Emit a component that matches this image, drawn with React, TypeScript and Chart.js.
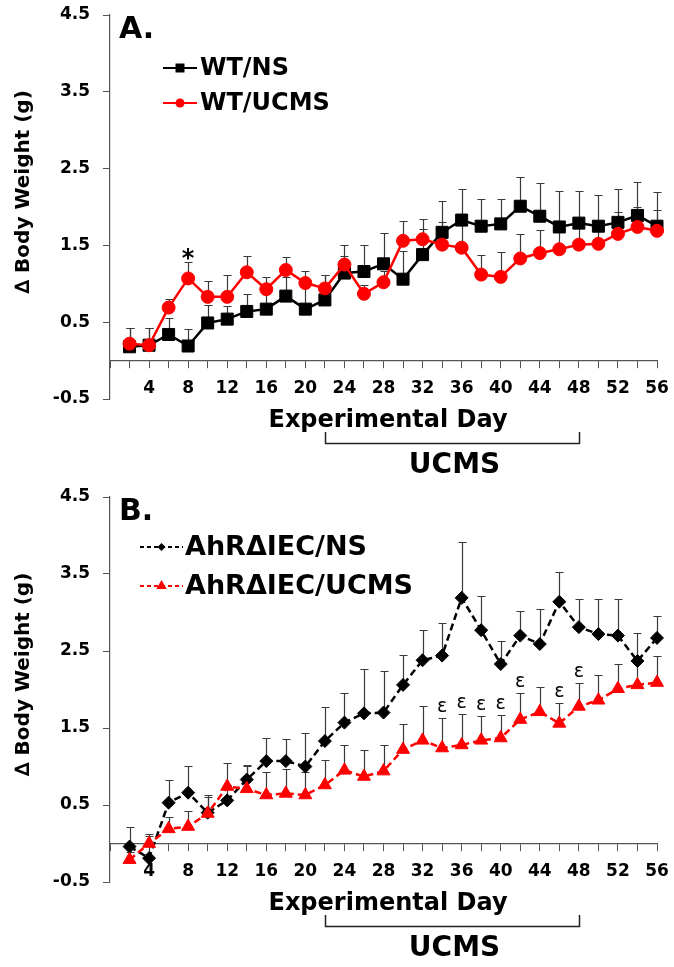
import React, { useEffect, useRef } from "react";
import { Chart, registerables } from "chart.js";

Chart.register(...registerables);

// ---------- data ----------
const days = [2, 4, 6, 8, 10, 12, 14, 16, 18, 20, 22, 24, 26, 28, 30, 32, 34, 36, 38, 40, 42, 44, 46, 48, 50, 52, 54, 56];
const xTickValues = [0, 2, 4, 6, 8, 10, 12, 14, 16, 18, 20, 22, 24, 26, 28, 30, 32, 34, 36, 38, 40, 42, 44, 46, 48, 50, 52, 54, 56];
const yTickValues = [-0.5, 0.5, 1.5, 2.5, 3.5, 4.5];

// Panel A
const wtNS = [0.18, 0.2, 0.34, 0.19, 0.49, 0.54, 0.64, 0.67, 0.84, 0.67, 0.79, 1.14, 1.16, 1.26, 1.06, 1.38, 1.67, 1.83, 1.75, 1.78, 2.01, 1.88, 1.74, 1.79, 1.75, 1.8, 1.89, 1.75];
const wtNSErr = [0.25, 0.22, 0.21, 0.22, 0.23, 0.17, 0.23, 0.2, 0.25, 0.3, 0.33, 0.36, 0.34, 0.4, 0.37, 0.33, 0.41, 0.4, 0.35, 0.33, 0.38, 0.43, 0.47, 0.42, 0.41, 0.44, 0.44, 0.44];
const wtUCMS = [0.22, 0.2, 0.69, 1.07, 0.83, 0.83, 1.15, 0.93, 1.18, 1.01, 0.94, 1.25, 0.87, 1.02, 1.56, 1.58, 1.51, 1.47, 1.12, 1.09, 1.33, 1.4, 1.45, 1.51, 1.52, 1.65, 1.74, 1.69];
const wtUCMSErr = [0.2, 0.22, 0.11, 0.21, 0.21, 0.29, 0.21, 0.16, 0.17, 0.16, 0.18, 0.11, 0.12, 0.15, 0.26, 0.27, 0.29, 0.3, 0.25, 0.33, 0.32, 0.3, 0.3, 0.3, 0.3, 0.28, 0.26, 0.27];
const starDays = [8];

// Panel B
const ahrNS = [-0.04, -0.19, 0.53, 0.66, 0.4, 0.56, 0.83, 1.07, 1.07, 1.0, 1.33, 1.57, 1.69, 1.7, 2.06, 2.38, 2.44, 3.19, 2.77, 2.33, 2.7, 2.59, 3.14, 2.81, 2.72, 2.7, 2.37, 2.67];
const ahrNSErr = [0.25, 0.31, 0.29, 0.35, 0.23, 0.2, 0.19, 0.3, 0.29, 0.44, 0.44, 0.39, 0.57, 0.54, 0.39, 0.39, 0.43, 0.73, 0.45, 0.3, 0.32, 0.45, 0.38, 0.37, 0.46, 0.48, 0.37, 0.28];
const ahrUCMS = [-0.21, 0.0, 0.19, 0.22, 0.39, 0.74, 0.71, 0.63, 0.65, 0.63, 0.76, 0.95, 0.87, 0.94, 1.22, 1.34, 1.24, 1.28, 1.34, 1.37, 1.61, 1.71, 1.56, 1.78, 1.86, 2.01, 2.06, 2.09];
const ahrUCMSErr = [0.1, 0.1, 0.15, 0.2, 0.21, 0.31, 0.3, 0.3, 0.32, 0.3, 0.32, 0.33, 0.35, 0.34, 0.33, 0.44, 0.39, 0.4, 0.32, 0.3, 0.34, 0.32, 0.26, 0.3, 0.33, 0.32, 0.3, 0.35];
const epsDays = [34, 36, 38, 40, 42, 46, 48];

const ucmsStartDay = 22;
const ucmsEndDay = 48;

// ---------- drawing ----------
const FONT = '"DejaVu Sans", sans-serif';
const AXIS = "#555";

type Style = "rect" | "circle" | "rectRot" | "triangle";
type Series = {
  label: string;
  values: number[];
  errors: number[];
  color: string;
  style: Style;
  radius: number;
  legendRadius: number;
  dash: number[];
  order: number;
};

type PanelCfg = {
  letter: string;
  series: Series[];
  height: number;
  bottomPad: number;
  legendX0: number;
  legendX1: number;
  legendTextX: number;
  legendRows: number[];
  legendFont: number;
  markSeries: number;
  markDays: number[];
  markText: string;
  markFont: string;
  markOffset: number;
};

function drawMarker(ctx: CanvasRenderingContext2D, style: Style, x: number, y: number, r: number) {
  ctx.beginPath();
  if (style === "circle") ctx.arc(x, y, r, 0, Math.PI * 2);
  else if (style === "rect") ctx.rect(x - r, y - r, 2 * r, 2 * r);
  else if (style === "rectRot") {
    ctx.moveTo(x, y - r);
    ctx.lineTo(x + r, y);
    ctx.lineTo(x, y + r);
    ctx.lineTo(x - r, y);
    ctx.closePath();
  } else {
    ctx.moveTo(x, y - r);
    ctx.lineTo(x + r * 0.866, y + r * 0.5);
    ctx.lineTo(x - r * 0.866, y + r * 0.5);
    ctx.closePath();
  }
  ctx.fill();
}

function makePlugin(cfg: PanelCfg) {
  return {
    id: "panelDeco" + cfg.letter,
    beforeDatasetsDraw(chart: any) {
      const { ctx, scales } = chart;
      const x = scales.x, y = scales.y;
      ctx.save();
      ctx.strokeStyle = "#3a3a3a";
      ctx.lineWidth = 1.2;
      cfg.series.forEach((s) => {
        s.values.forEach((v, i) => {
          const px = Math.round(x.getPixelForValue(days[i])) + 0.5;
          const py = y.getPixelForValue(v);
          const pt = Math.round(y.getPixelForValue(v + s.errors[i])) + 0.5;
          ctx.beginPath();
          ctx.moveTo(px, py);
          ctx.lineTo(px, pt);
          ctx.moveTo(px - 4, pt);
          ctx.lineTo(px + 4, pt);
          ctx.stroke();
        });
      });
      ctx.restore();
    },
    afterDraw(chart: any) {
      const { ctx, chartArea, scales } = chart;
      const x = scales.x, y = scales.y;
      ctx.save();
      ctx.fillStyle = "#000";

      // panel letter
      ctx.font = `bold 30px ${FONT}`;
      ctx.textAlign = "left";
      ctx.textBaseline = "alphabetic";
      ctx.fillText(cfg.letter, 119, 38);

      // legend
      cfg.series.forEach((s, i) => {
        const ly = cfg.legendRows[i];
        ctx.save();
        ctx.strokeStyle = s.color;
        ctx.lineWidth = 2;
        ctx.setLineDash(s.dash.length ? [4, 3] : []);
        ctx.beginPath();
        ctx.moveTo(cfg.legendX0, ly);
        ctx.lineTo(cfg.legendX1, ly);
        ctx.stroke();
        ctx.restore();
        ctx.fillStyle = s.color;
        drawMarker(ctx, s.style, (cfg.legendX0 + cfg.legendX1) / 2, ly, s.legendRadius);
        ctx.fillStyle = "#000";
        ctx.font = `bold ${cfg.legendFont}px ${FONT}`;
        ctx.textAlign = "left";
        ctx.textBaseline = "middle";
        ctx.fillText(s.label, cfg.legendTextX, ly + 1);
      });

      // y title
      ctx.save();
      ctx.translate(24, (chartArea.top + chartArea.bottom) / 2 - 15);
      ctx.rotate(-Math.PI / 2);
      ctx.font = `bold 20px ${FONT}`;
      ctx.textAlign = "center";
      ctx.textBaseline = "middle";
      ctx.fillText("\u2206 Body Weight (g)", 0, 0);
      ctx.restore();

      // x title
      const zeroY = y.getPixelForValue(0);
      ctx.font = `bold 24px ${FONT}`;
      ctx.textAlign = "center";
      ctx.textBaseline = "middle";
      ctx.fillText("Experimental Day", 388, zeroY + 60);

      // UCMS bracket
      const bx0 = Math.round(x.getPixelForValue(ucmsStartDay)) + 0.5;
      const bx1 = Math.round(x.getPixelForValue(ucmsEndDay)) + 0.5;
      const by0 = Math.round(zeroY + 71);
      const by1 = by0 + 11.5;
      ctx.strokeStyle = "#222";
      ctx.lineWidth = 1.5;
      ctx.beginPath();
      ctx.moveTo(bx0, by0);
      ctx.lineTo(bx0, by1);
      ctx.lineTo(bx1, by1);
      ctx.lineTo(bx1, by0);
      ctx.stroke();
      ctx.font = `bold 28px ${FONT}`;
      ctx.fillText("UCMS", (bx0 + bx1) / 2 + 2, zeroY + 105);

      // significance marks
      const ms = cfg.series[cfg.markSeries];
      ctx.font = cfg.markFont;
      ctx.textAlign = "center";
      ctx.textBaseline = "alphabetic";
      cfg.markDays.forEach((d) => {
        const i = days.indexOf(d);
        if (i < 0) return;
        const capY = y.getPixelForValue(ms.values[i] + ms.errors[i]);
        ctx.fillText(cfg.markText, x.getPixelForValue(d), capY + cfg.markOffset);
      });
      ctx.restore();
    },
  };
}

function Panel({ cfg }: { cfg: PanelCfg }) {
  const ref = useRef<HTMLCanvasElement | null>(null);
  useEffect(() => {
    if (!ref.current) return;
    const tickFont = { family: FONT, weight: "bold" as const, size: 17 };
    const chart = new Chart(ref.current, {
      type: "line",
      data: {
        datasets: cfg.series.map((s) => ({
          label: s.label,
          data: s.values.map((v, i) => ({ x: days[i], y: v })),
          borderColor: s.color,
          backgroundColor: s.color,
          borderWidth: 2.5,
          borderDash: s.dash,
          pointStyle: s.style,
          pointRadius: s.radius,
          pointHoverRadius: s.radius,
          pointBackgroundColor: s.color,
          pointBorderColor: s.color,
          pointBorderWidth: 1,
          tension: 0,
          order: s.order,
          clip: false as any,
        })),
      },
      options: {
        animation: false,
        responsive: false,
        devicePixelRatio: 1,
        events: [],
        layout: { padding: { left: 0, right: 17, top: 15, bottom: cfg.bottomPad } },
        plugins: { legend: { display: false }, tooltip: { enabled: false }, title: { display: false } },
        scales: {
          x: {
            type: "linear",
            position: { y: 0 } as any,
            min: 0,
            max: 56,
            afterBuildTicks: (s: any) => {
              s.ticks = xTickValues.map((v) => ({ value: v }));
            },
            afterFit: (s: any) => {
              s.paddingLeft = 0;
              s.paddingRight = 0;
              s.paddingTop = 0;
              s.paddingBottom = 0;
            },
            grid: { drawOnChartArea: false, drawTicks: true, tickLength: 7, color: AXIS, lineWidth: 1 },
            border: { display: true, color: AXIS, width: 1.2 },
            ticks: {
              autoSkip: false,
              maxRotation: 0,
              minRotation: 0,
              padding: 11,
              color: "#000",
              font: tickFont,
              callback: (v: any) => (Number(v) > 0 && Number(v) % 4 === 0 ? String(v) : ""),
            },
          },
          y: {
            type: "linear",
            position: "left",
            min: -0.5,
            max: 4.5,
            afterBuildTicks: (s: any) => {
              s.ticks = yTickValues.map((v) => ({ value: v }));
            },
            afterFit: (s: any) => {
              s.width = 110;
              s.paddingTop = 0;
              s.paddingBottom = 0;
            },
            grid: { drawOnChartArea: false, drawTicks: true, tickLength: 7, color: AXIS, lineWidth: 1 },
            border: { display: true, color: AXIS, width: 1.2 },
            ticks: {
              padding: 13,
              color: "#000",
              font: tickFont,
              callback: (v: any) => Number(v).toFixed(1),
            },
          },
        },
      },
      plugins: [makePlugin(cfg)],
    });
    return () => chart.destroy();
  }, [cfg]);
  return <canvas ref={ref} width={674} height={cfg.height} style={{ display: "block", width: 674, height: cfg.height }} />;
}

const panelA: PanelCfg = {
  letter: "A.",
  series: [
    { label: "WT/NS", values: wtNS, errors: wtNSErr, color: "#000000", style: "rect", radius: 8.5, legendRadius: 4.5, dash: [], order: 2 },
    { label: "WT/UCMS", values: wtUCMS, errors: wtUCMSErr, color: "#ff0000", style: "circle", radius: 6.5, legendRadius: 4.5, dash: [], order: 1 },
  ],
  height: 482,
  bottomPad: 83,
  legendX0: 163,
  legendX1: 197,
  legendTextX: 200,
  legendRows: [68, 103],
  legendFont: 24,
  markSeries: 1,
  markDays: starDays,
  markText: "*",
  markFont: `bold 24px ${FONT}`,
  markOffset: 4,
};

const panelB: PanelCfg = {
  letter: "B.",
  series: [
    { label: "AhR\u0394IEC/NS", values: ahrNS, errors: ahrNSErr, color: "#000000", style: "rectRot", radius: 6.5, legendRadius: 4, dash: [7, 4], order: 2 },
    { label: "AhR\u0394IEC/UCMS", values: ahrUCMS, errors: ahrUCMSErr, color: "#ff0000", style: "triangle", radius: 7.5, legendRadius: 6, dash: [7, 4], order: 1 },
  ],
  height: 485,
  bottomPad: 85,
  legendX0: 140,
  legendX1: 183,
  legendTextX: 185,
  legendRows: [65, 104],
  legendFont: 27,
  markSeries: 1,
  markDays: epsDays,
  markText: "\u03B5",
  markFont: `19px ${FONT}`,
  markOffset: -6,
};

export default function App() {
  return (
    <div style={{ position: "absolute", left: 0, top: 0, width: 674, height: 967, background: "#fff" }}>
      <div style={{ position: "absolute", left: 0, top: 0 }}>
        <Panel cfg={panelA} />
      </div>
      <div style={{ position: "absolute", left: 0, top: 482 }}>
        <Panel cfg={panelB} />
      </div>
    </div>
  );
}
